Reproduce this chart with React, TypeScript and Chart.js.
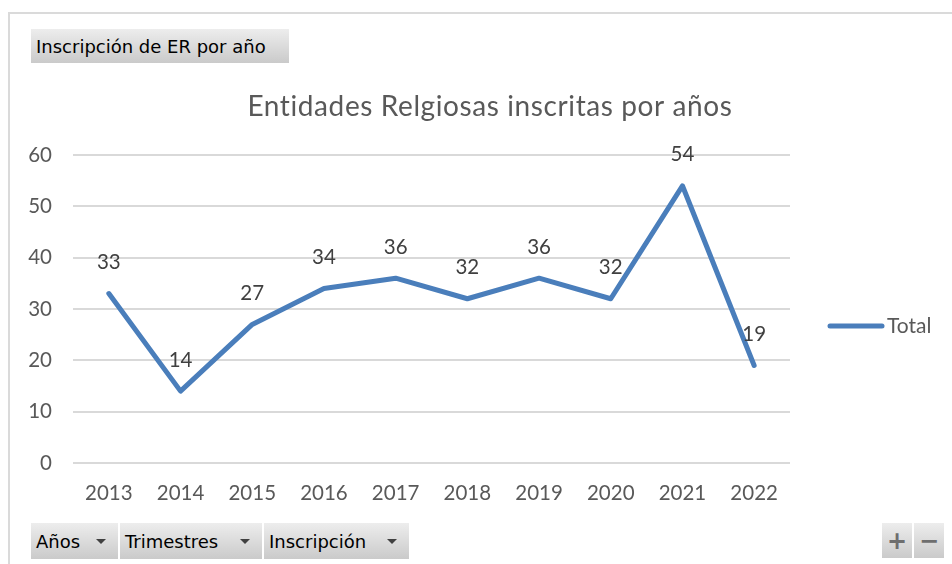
import React, { useEffect, useRef } from "react";
import { Chart, registerables } from "chart.js";

Chart.register(...registerables);

const categories = ["2013", "2014", "2015", "2016", "2017", "2018", "2019", "2020", "2021", "2022"];
const totals = [33, 14, 27, 34, 36, 32, 36, 32, 54, 19];
const yMin = 0;
const yMax = 60;
const yStep = 10;
const seriesLabel = "Total";
const chartTitle = "Entidades Relgiosas inscritas por años";
const filterButtonLabel = "Inscripción de ER por año";
const axisButtonLabels = ["Años", "Trimestres", "Inscripción"];

const CHART_FONT = "Lato, 'Noto Sans', sans-serif";
const BTN_FONT = "'DejaVu Sans', sans-serif";
const LINE_COLOR = "#4a7ebb";

const excelTextPlugin = {
  id: "excelText",
  afterDatasetsDraw(chart: any) {
    const ctx = chart.ctx;
    const meta = chart.getDatasetMeta(0);
    ctx.save();
    ctx.font = `20.5px ${CHART_FONT}`;
    ctx.fillStyle = "#404040";
    ctx.textAlign = "center";
    ctx.textBaseline = "middle";
    meta.data.forEach((pt: any, i: number) => {
      ctx.fillText(String(chart.data.datasets[0].data[i]), pt.x, pt.y - 31);
    });
    ctx.restore();
  },
  afterDraw(chart: any) {
    const ctx = chart.ctx;
    const area = chart.chartArea;
    ctx.save();
    // title
    ctx.font = `28px ${CHART_FONT}`;
    (ctx as any).letterSpacing = "0.6px";
    ctx.fillStyle = "#595959";
    ctx.textAlign = "center";
    ctx.textBaseline = "middle";
    ctx.fillText(chartTitle, 490, area.top - 48);
    (ctx as any).letterSpacing = "0px";
    // legend
    const ds = chart.data.datasets[0];
    const ly = area.top + 171;
    const lx = area.right + 40;
    ctx.strokeStyle = ds.borderColor;
    ctx.lineWidth = 5;
    ctx.lineCap = "round";
    ctx.beginPath();
    ctx.moveTo(lx, ly);
    ctx.lineTo(lx + 52, ly);
    ctx.stroke();
    ctx.font = `21px ${CHART_FONT}`;
    ctx.fillStyle = "#595959";
    ctx.textAlign = "left";
    ctx.fillText(ds.label, lx + 57, ly);
    ctx.restore();
  },
};

const btnBase: React.CSSProperties = {
  position: "absolute",
  boxSizing: "border-box",
  background: "linear-gradient(#ededed, #cacaca)",
  fontFamily: BTN_FONT,
  fontSize: 18,
  color: "#000",
  display: "flex",
  alignItems: "center",
  whiteSpace: "nowrap",
};

function Arrow() {
  return (
    <span
      style={{
        display: "inline-block",
        width: 0,
        height: 0,
        borderLeft: "5px solid transparent",
        borderRight: "5px solid transparent",
        borderTop: "5px solid #404040",
        marginLeft: "auto",
        marginRight: 12,
      }}
    />
  );
}

export default function App() {
  const canvasRef = useRef<HTMLCanvasElement | null>(null);

  useEffect(() => {
    if (!canvasRef.current) return;
    const chart = new Chart(canvasRef.current, {
      type: "line",
      data: {
        labels: categories,
        datasets: [
          {
            label: seriesLabel,
            data: totals,
            borderColor: LINE_COLOR,
            backgroundColor: LINE_COLOR,
            borderWidth: 5,
            pointRadius: 0,
            pointHoverRadius: 0,
            tension: 0,
            borderJoinStyle: "round",
            borderCapStyle: "round",
            fill: false,
          },
        ],
      },
      options: {
        animation: false,
        responsive: false,
        maintainAspectRatio: false,
        events: [],
        layout: { padding: { left: 10, right: 162, top: 155, bottom: 0 } },
        plugins: {
          legend: { display: false },
          title: { display: false },
          tooltip: { enabled: false },
        },
        scales: {
          x: {
            offset: true,
            grid: { display: false, drawTicks: false },
            border: { display: false },
            ticks: {
              font: { family: CHART_FONT, size: 20.5 },
              color: "#595959",
              padding: 18,
              maxRotation: 0,
              autoSkip: false,
            },
            afterFit: (s: any) => {
              s.height = 101;
            },
          },
          y: {
            min: yMin,
            max: yMax,
            ticks: {
              stepSize: yStep,
              padding: 21,
              font: { family: CHART_FONT, size: 20.5 },
              color: "#595959",
            },
            grid: { color: "#d9d9d9", lineWidth: 2, drawTicks: false },
            border: { display: false },
            afterFit: (s: any) => {
              s.width = 63;
            },
          },
        },
      },
      plugins: [excelTextPlugin],
    });
    return () => chart.destroy();
  }, []);

  return (
    <div
      style={{
        position: "fixed",
        left: 0,
        top: 0,
        width: 952,
        height: 564,
        overflow: "hidden",
        background: "#fff",
      }}
    >
      <div
        style={{
          position: "absolute",
          left: 8,
          top: 12,
          width: 1000,
          height: 600,
          border: "2px solid #dadada",
          boxSizing: "border-box",
        }}
      />
      <canvas
        ref={canvasRef}
        width={952}
        height={564}
        style={{ position: "absolute", left: 0, top: 0, width: 952, height: 564 }}
      />
      <div style={{ ...btnBase, left: 31, top: 29, width: 258, height: 34, paddingLeft: 5 }}>
        {filterButtonLabel}
      </div>
      <div style={{ ...btnBase, left: 31, top: 523, width: 87, height: 36, paddingLeft: 5 }}>
        {axisButtonLabels[0]}
        <Arrow />
      </div>
      <div style={{ ...btnBase, left: 120, top: 523, width: 142, height: 36, paddingLeft: 5 }}>
        {axisButtonLabels[1]}
        <Arrow />
      </div>
      <div style={{ ...btnBase, left: 264, top: 523, width: 145, height: 36, paddingLeft: 5 }}>
        {axisButtonLabels[2]}
        <Arrow />
      </div>
      <div
        style={{
          ...btnBase,
          left: 882,
          top: 523,
          width: 30,
          height: 35,
          justifyContent: "center",
          color: "#6e6e6e",
          fontSize: 24,
          fontWeight: "bold",
        }}
      >
        +
      </div>
      <div
        style={{
          ...btnBase,
          left: 914,
          top: 523,
          width: 30,
          height: 35,
          justifyContent: "center",
          color: "#6e6e6e",
          fontSize: 24,
          fontWeight: "bold",
        }}
      >
        −
      </div>
    </div>
  );
}
